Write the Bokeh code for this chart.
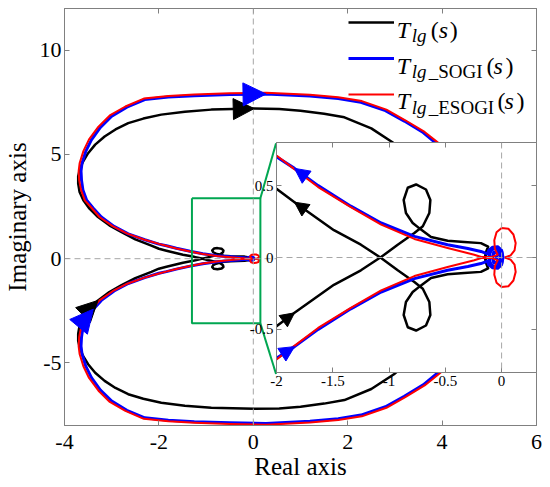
from bokeh.plotting import figure
from bokeh.models import (Range1d, FixedTicker, LinearAxis, CustomJSTickFormatter, Span,
                          Label, Legend, LegendItem, Arrow, NormalHead, ColumnDataSource)
from bokeh.layouts import column
from bokeh.embed import file_html
from bokeh.resources import INLINE

# ---------------- data ----------------
# T_lg(s): positive-frequency branch (upper) and its mirror (lower)
BLK_UP_RE = [-0.01, -0.025, -0.066, -0.11, -0.145, -0.14, -0.12, -0.184, -0.332, -0.479,
             -0.627, -0.716, -0.79, -0.85, -0.87, -0.834, -0.76, -0.672, -0.633, -0.642,
             -0.70, -0.775, -0.923, -1.071, -1.25, -1.49, -1.84, -2.0, -2.16, -2.5,
             -2.79, -3.05, -3.29, -3.47, -3.60, -3.68, -3.71, -3.71, -3.68, -3.61,
             -3.50, -3.35, -3.15, -2.92, -2.65, -2.33, -1.95, -1.45, -0.89, 0.02,
             0.55, 1.0, 1.5, 1.93, 2.5, 2.98, 3.35, 3.6, 3.8, 3.9,
             3.97, 4.0, 4.02]
BLK_UP_IM = [0.0, 0.05, 0.068, 0.055, 0.015, -0.035, -0.075, -0.10, -0.108, -0.117,
             -0.143, -0.194, -0.24, -0.31, -0.40, -0.485, -0.508, -0.473, -0.40, -0.31,
             -0.217, -0.17, -0.089, -0.003, 0.089, 0.19, 0.385, 0.478, 0.63, 0.93,
             1.27, 1.6, 2.0, 2.4, 2.8, 3.2, 3.6, 3.95, 4.25, 4.65,
             5.06, 5.47, 5.86, 6.2, 6.5, 6.72, 6.91, 7.05, 7.15, 7.2,
             7.18, 7.1, 6.95, 6.78, 6.25, 5.54, 4.8, 4.0, 3.1, 2.2,
             1.4, 0.8, 0.0]
BLK_LO_RE = BLK_UP_RE
BLK_LO_IM = [0.0, -0.05, -0.068, -0.055, -0.015, 0.035, 0.075, 0.10, 0.108, 0.117,
             0.143, 0.194, 0.24, 0.31, 0.40, 0.485, 0.508, 0.473, 0.40, 0.31,
             0.217, 0.17, 0.089, 0.003, -0.089, -0.19, -0.385, -0.478, -0.63, -0.93,
             -1.27, -1.6, -2.0, -2.4, -2.8, -3.2, -3.6, -3.95, -4.25, -4.65,
             -5.06, -5.47, -5.86, -6.2, -6.5, -6.72, -6.91, -7.05, -7.15, -7.2,
             -7.18, -7.1, -6.95, -6.78, -6.25, -5.54, -4.8, -4.0, -3.1, -2.2,
             -1.4, -0.8, 0.0]

# T_lg_SOGI(s)
BLU_UP_RE = [-0.055, -0.03, -0.04, -0.07, -0.08, -0.07, -0.04, -0.015, -0.005, -0.025,
             -0.06, -0.095, -0.11, -0.105, -0.075, -0.035, 0.0, 0.012, 0.0, -0.035,
             -0.08, -0.115, -0.125, -0.184, -0.30, -0.48, -0.775, -1.07, -1.34, -1.63,
             -1.84, -2.0, -2.3, -2.65, -2.95, -3.22, -3.39, -3.53, -3.61, -3.64,
             -3.65, -3.63, -3.55, -3.43, -3.24, -3.0, -2.68, -2.30, -1.8, -1.25,
             -0.5, 0.27, 1.2, 1.8, 2.28, 2.8, 3.2, 3.6, 3.90, 4.25,
             4.5, 4.75, 4.9, 5.0, 5.05, 5.1]
BLU_UP_IM = [0.0, 0.02, 0.04, 0.035, 0.005, -0.03, -0.045, -0.025, 0.015, 0.055,
             0.065, 0.05, 0.015, -0.035, -0.065, -0.07, -0.045, 0.0, 0.05, 0.075,
             0.072, 0.05, 0.025, 0.042, 0.062, 0.089, 0.147, 0.24, 0.357, 0.50,
             0.62, 0.70, 0.91, 1.19, 1.55, 2.0, 2.42, 2.8, 3.3, 3.77,
             4.2, 4.57, 5.15, 5.70, 6.3, 6.83, 7.27, 7.63, 7.75, 7.82,
             7.87, 7.9, 7.8, 7.68, 7.50, 7.1, 6.6, 6.05, 5.49, 4.8,
             4.0, 3.1, 2.3, 1.6, 1.0, 0.0]
BLU_LO_RE = BLU_UP_RE
BLU_LO_IM = [0.0, -0.02, -0.04, -0.035, -0.005, 0.03, 0.045, 0.025, -0.015, -0.055,
             -0.065, -0.05, -0.015, 0.035, 0.065, 0.07, 0.045, 0.0, -0.05, -0.075,
             -0.072, -0.05, -0.025, -0.042, -0.062, -0.089, -0.147, -0.24, -0.357, -0.50,
             -0.62, -0.70, -0.91, -1.19, -1.55, -2.0, -2.42, -2.8, -3.3, -3.77,
             -4.2, -4.57, -5.15, -5.70, -6.3, -6.83, -7.27, -7.63, -7.75, -7.82,
             -7.87, -7.9, -7.8, -7.68, -7.50, -7.1, -6.6, -6.05, -5.49, -4.8,
             -4.0, -3.1, -2.3, -1.6, -1.0, 0.0]

# T_lg_ESOGI(s)
RED_UP_RE = [0.03, 0.08, 0.115, 0.125, 0.105, 0.06, 0.0, -0.045, -0.065, -0.06,
             -0.035, -0.09, -0.18, -0.243, -0.48, -0.775, -1.07, -1.34, -1.63, -1.85,
             -2.0, -2.32, -2.67, -2.98, -3.26, -3.42, -3.57, -3.65, -3.69, -3.70,
             -3.68, -3.60, -3.48, -3.28, -3.04, -2.71, -2.32, -1.8, -1.25, -0.5,
             0.27, 1.2, 1.8, 2.3, 2.82, 3.22, 3.63, 3.94, 4.29, 4.55,
             4.8, 4.95, 5.05, 5.1, 5.15]
RED_UP_IM = [0.0, 0.015, 0.05, 0.1, 0.16, 0.2, 0.205, 0.175, 0.12, 0.06,
             0.02, 0.003, 0.004, 0.019, 0.066, 0.129, 0.229, 0.35, 0.49, 0.62,
             0.71, 0.92, 1.2, 1.56, 2.0, 2.42, 2.8, 3.3, 3.77, 4.2,
             4.57, 5.16, 5.72, 6.33, 6.87, 7.3, 7.68, 7.8, 7.87, 7.93,
             7.96, 7.86, 7.74, 7.56, 7.15, 6.64, 6.08, 5.52, 4.82, 4.0,
             3.1, 2.3, 1.6, 1.0, 0.0]
RED_LO_RE = RED_UP_RE
RED_LO_IM = [0.0, -0.015, -0.05, -0.1, -0.16, -0.2, -0.205, -0.175, -0.12, -0.06,
             -0.02, -0.003, -0.004, -0.019, -0.066, -0.129, -0.229, -0.35, -0.49, -0.62,
             -0.71, -0.92, -1.2, -1.56, -2.0, -2.42, -2.8, -3.3, -3.77, -4.2,
             -4.57, -5.16, -5.72, -6.33, -6.87, -7.3, -7.68, -7.8, -7.87, -7.93,
             -7.96, -7.86, -7.74, -7.56, -7.15, -6.64, -6.08, -5.52, -4.82, -4.0,
             -3.1, -2.3, -1.6, -1.0, 0.0]

# ticks
MAIN_X_TICKS = [-4, -2, 0, 2, 4, 6]
MAIN_Y_TICKS = [-5, 0, 5, 10]
INSET_X_TICKS = [-2, -1.5, -1, -0.5, 0]
INSET_Y_TICKS = [-0.5, 0, 0.5]

# zoom rectangle (main data units) and connector targets (inset corners)
ZOOM_X = [-1.3, 0.15, 0.15, -1.3, -1.3]
ZOOM_Y = [2.9, 2.9, -3.1, -3.1, 2.9]
CONN_X0 = [0.15, 0.15]
CONN_Y0 = [2.9, -3.1]
CONN_X1 = [0.482, 0.482]
CONN_Y1 = [5.53, -5.53]

# ---------------- styling ----------------
FONT = "Liberation Serif"
AXC = "#808080"
BLACK, BLUE, RED, GREEN = "#000000", "#0000ff", "#ff0000", "#00a651"


def style_axis(ax, ticks, size, standoff, labels=True):
    ax.ticker = FixedTicker(ticks=ticks)
    ax.major_tick_in = 5
    ax.major_tick_out = 0
    ax.minor_tick_in = 0
    ax.minor_tick_out = 0
    ax.axis_line_color = AXC
    ax.major_tick_line_color = AXC
    ax.major_label_text_font = FONT
    ax.major_label_text_color = "black"
    if labels:
        ax.formatter = CustomJSTickFormatter(code="return tick.toString()")
        ax.major_label_text_font_size = size
        ax.major_label_standoff = standoff
    else:
        ax.formatter = CustomJSTickFormatter(code="return ''")
        ax.major_label_text_font_size = "1px"
        ax.major_label_standoff = 0


def draw_curves(fig, bw, uw, rw):
    rb = fig.line(BLK_UP_RE, BLK_UP_IM, line_color=BLACK, line_width=bw, line_join="round")
    fig.line(BLK_LO_RE, BLK_LO_IM, line_color=BLACK, line_width=bw, line_join="round")
    ru = fig.line(BLU_UP_RE, BLU_UP_IM, line_color=BLUE, line_width=uw, line_join="round")
    fig.line(BLU_LO_RE, BLU_LO_IM, line_color=BLUE, line_width=uw, line_join="round")
    rr = fig.line(RED_UP_RE, RED_UP_IM, line_color=RED, line_width=rw, line_join="round")
    fig.line(RED_LO_RE, RED_LO_IM, line_color=RED, line_width=rw, line_join="round")
    return rb, ru, rr


def add_arrow(fig, xs, ys, i_from, i_to, color, size):
    src = ColumnDataSource(dict(x0=[xs[i_from]], y0=[ys[i_from]], x1=[xs[i_to]], y1=[ys[i_to]]))
    fig.add_layout(Arrow(end=NormalHead(size=size, fill_color=color, line_color=color, line_width=1),
                         source=src, x_start="x0", y_start="y0", x_end="x1", y_end="y1",
                         line_color=None))


def zero_lines(fig):
    fig.add_layout(Span(location=0, dimension="width", line_color="#a6a6a6", line_dash="6 4", line_width=1))
    fig.add_layout(Span(location=0, dimension="height", line_color="#a6a6a6", line_dash="6 4", line_width=1))


# ---------------- main figure ----------------
p = figure(width=542, height=486, x_range=Range1d(-4, 6), y_range=Range1d(-8, 12),
           output_backend="svg", toolbar_location=None,
           min_border_left=63, min_border_right=6, min_border_top=8, min_border_bottom=61,
           background_fill_color="white", border_fill_color="white")
p.xgrid.visible = False
p.ygrid.visible = False
p.outline_line_color = AXC
style_axis(p.xaxis[0], MAIN_X_TICKS, "22px", 9)
style_axis(p.yaxis[0], MAIN_Y_TICKS, "22px", 3)
p.xaxis.axis_label = "Real axis"
p.yaxis.axis_label = "Imaginary axis"
for ax in (p.xaxis[0], p.yaxis[0]):
    ax.axis_label_text_font = FONT
    ax.axis_label_text_font_size = "25px"
    ax.axis_label_text_font_style = "normal"
    ax.axis_label_text_color = "black"
p.xaxis[0].axis_label_standoff = 1
p.yaxis[0].axis_label_standoff = 6
top_ax = LinearAxis()
style_axis(top_ax, MAIN_X_TICKS, "1px", 0, labels=False)
p.add_layout(top_ax, "above")
right_ax = LinearAxis()
style_axis(right_ax, MAIN_Y_TICKS, "1px", 0, labels=False)
p.add_layout(right_ax, "right")

zero_lines(p)
rb, ru, rr = draw_curves(p, 2.5, 3, 2)

# zoom box + connectors
p.line(ZOOM_X, ZOOM_Y, line_color=GREEN, line_width=2)
p.segment(CONN_X0, CONN_Y0, CONN_X1, CONN_Y1, line_color=GREEN, line_width=2)

# direction arrows (main)
add_arrow(p, BLK_UP_RE, BLK_UP_IM, BLK_UP_RE.index(-0.89), BLK_UP_RE.index(0.02), BLACK, 21)
add_arrow(p, BLU_UP_RE, BLU_UP_IM, BLU_UP_RE.index(-0.5), BLU_UP_RE.index(0.27), BLUE, 23)
add_arrow(p, BLK_LO_RE, BLK_LO_IM, BLK_LO_RE.index(-3.47), BLK_LO_RE.index(-3.29), BLACK, 21)
add_arrow(p, BLU_LO_RE, BLU_LO_IM, BLU_LO_RE.index(-3.53), BLU_LO_RE.index(-3.39), BLUE, 23)

# legend: line samples from Bokeh's legend, labels as composed rich text
legend = Legend(items=[LegendItem(label=" ", renderers=[rb]),
                       LegendItem(label=" ", renderers=[ru]),
                       LegendItem(label=" ", renderers=[rr])],
                location=(284, 317), orientation="vertical",
                glyph_width=46, glyph_height=28, label_height=28, label_width=1,
                spacing=8, padding=0, margin=0, label_standoff=0,
                border_line_color=None, background_fill_alpha=0,
                label_text_font_size="1px")
p.add_layout(legend)

LEG_PARTS = [
    # text, x, y, size, style
    ("T", 3.040, 10.97, "24px", "italic"), ("lg", 3.357, 10.72, "19px", "italic"),
    ("(", 3.759, 10.97, "24px", "normal"), ("s", 3.928, 10.97, "24px", "italic"),
    (")", 4.161, 10.97, "24px", "normal"),
    ("T", 3.040, 9.23, "24px", "italic"), ("lg", 3.357, 8.99, "19px", "italic"),
    ("_SOGI", 3.717, 8.99, "19px", "normal"),
    ("(", 4.943, 9.23, "24px", "normal"), ("s", 5.091, 9.23, "24px", "italic"),
    (")", 5.345, 9.23, "24px", "normal"),
    ("T", 3.040, 7.54, "24px", "italic"), ("lg", 3.357, 7.25, "19px", "italic"),
    ("_ESOGI", 3.717, 7.25, "19px", "normal"),
    ("(", 5.175, 7.54, "24px", "normal"), ("s", 5.323, 7.54, "24px", "italic"),
    (")", 5.577, 7.54, "24px", "normal"),
]
for t, x, y, s, st in LEG_PARTS:
    p.add_layout(Label(x=x, y=y, text=t, text_font=FONT, text_font_size=s, text_font_style=st,
                       text_color="black", text_baseline="alphabetic", text_align="left"))

# ---------------- inset figure ----------------
# (Bokeh aligns the side borders of plots stacked in a column, so the inset uses
#  the same left/right borders as the main plot)
ins = figure(width=330, height=255, x_range=Range1d(-2, 0.31), y_range=Range1d(-0.8, 0.8),
             output_backend="svg", toolbar_location=None,
             min_border_left=63, min_border_right=6, min_border_top=0, min_border_bottom=25,
             background_fill_color="white", border_fill_color=None)
ins.xgrid.visible = False
ins.ygrid.visible = False
ins.outline_line_color = AXC
style_axis(ins.xaxis[0], INSET_X_TICKS, "15px", 3)
style_axis(ins.yaxis[0], INSET_Y_TICKS, "15px", 3)
it = LinearAxis()
style_axis(it, INSET_X_TICKS, "1px", 0, labels=False)
ins.add_layout(it, "above")
ir = LinearAxis()
style_axis(ir, INSET_Y_TICKS, "1px", 0, labels=False)
ins.add_layout(ir, "right")
zero_lines(ins)
draw_curves(ins, 2.5, 3, 2)
add_arrow(ins, BLK_UP_RE, BLK_UP_IM, BLK_UP_RE.index(-1.49), BLK_UP_RE.index(-1.84), BLACK, 14)
add_arrow(ins, BLU_UP_RE, BLU_UP_IM, BLU_UP_RE.index(-1.63), BLU_UP_RE.index(-1.84), BLUE, 15)
add_arrow(ins, BLK_LO_RE, BLK_LO_IM, BLK_LO_RE.index(-2.0), BLK_LO_RE.index(-1.84), BLACK, 14)
add_arrow(ins, BLU_LO_RE, BLU_LO_IM, BLU_LO_RE.index(-2.0), BLU_LO_RE.index(-1.84), BLUE, 15)

ins.styles = {"position": "absolute", "left": "212px", "top": "142px"}

layout = column(p, ins)
open("out.html", "w").write(file_html(layout, INLINE))
